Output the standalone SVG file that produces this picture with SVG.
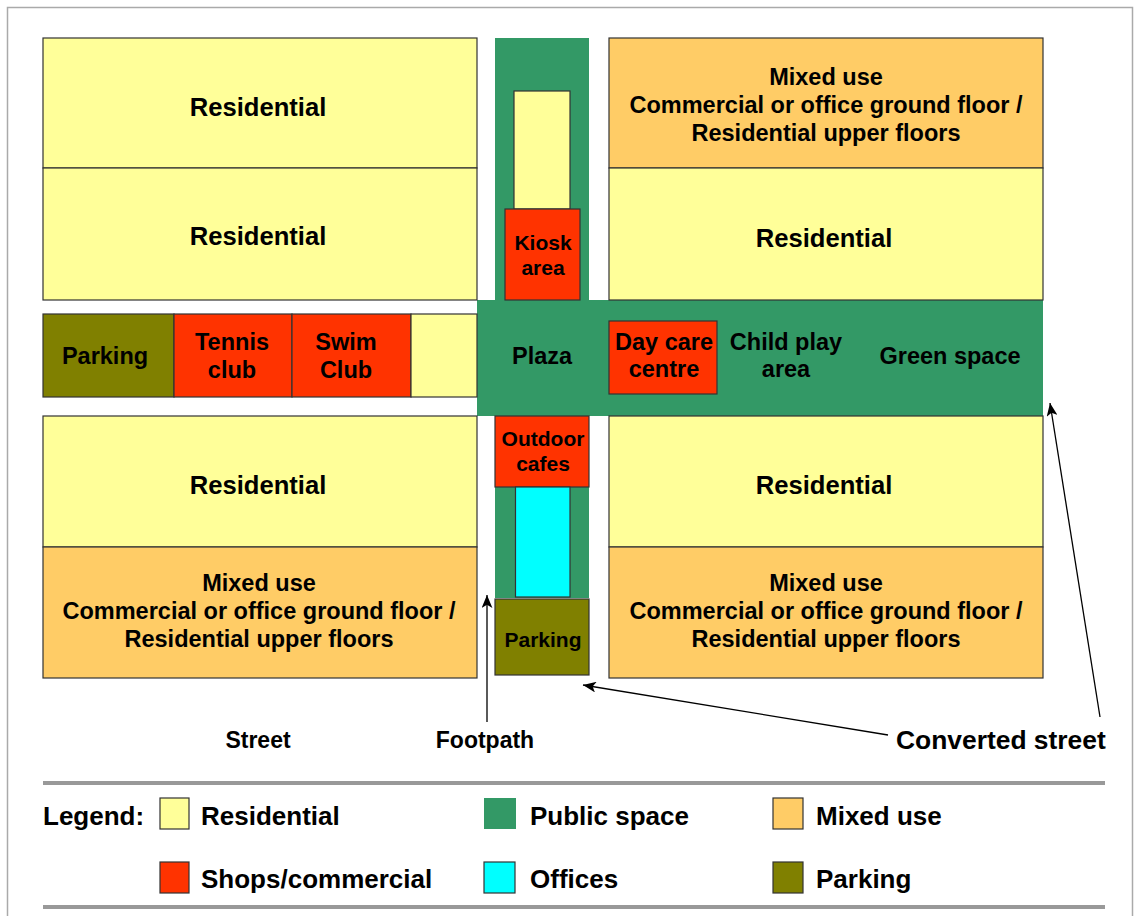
<svg xmlns="http://www.w3.org/2000/svg" width="1136" height="916" viewBox="0 0 1136 916">
<defs>
<style>
.blk{stroke:#333;stroke-width:1.2}
.res{fill:#FFFF99}
.mix{fill:#FFCC66}
.pub{fill:#339966}
.shop{fill:#FF3300}
.off{fill:#00FFFF}
.park{fill:#808000}
text{font-family:"Liberation Sans",Arial,Helvetica,sans-serif;font-weight:bold;fill:#000}
.c{text-anchor:middle}
.big{font-size:25.6px}
.leg{font-size:26px}
.mid{font-size:23.5px}
.lbl{font-size:23px}
.sm{font-size:21px}
.conn{stroke:#000;stroke-width:1.3;fill:none;marker-end:url(#ah)}
</style>
<marker id="ah" viewBox="0 0 12 10" refX="12" refY="5" markerWidth="13" markerHeight="11" markerUnits="userSpaceOnUse" orient="auto">
<path d="M0,0 L12,5 L0,10 L3,5 Z" fill="#000"/>
</marker>
</defs>
<rect x="0" y="0" width="1136" height="916" fill="#fff"/>
<rect x="7.5" y="7.5" width="1125" height="920" fill="none" stroke="#aaa" stroke-width="1.5"/>

<g id="public-strip-north"><rect class="pub" x="495" y="38" width="94" height="262"/></g>
<g id="public-strip-south"><rect class="pub" x="495" y="416" width="94" height="182"/></g>
<g id="plaza-band"><rect class="pub" x="477" y="300" width="566" height="116"/>
<text class="c mid" x="542" y="364">Plaza</text>
<text class="c mid" x="786" y="350">Child play</text>
<text class="c mid" x="786" y="377">area</text>
<text class="c mid" x="950" y="364">Green space</text>
</g>

<g id="res-nw1"><rect class="blk res" x="43" y="38" width="434" height="130"/><text class="c big" x="258" y="116">Residential</text></g>
<g id="res-nw2"><rect class="blk res" x="43" y="168" width="434" height="132"/><text class="c big" x="258" y="245">Residential</text></g>
<g id="parking-w"><rect class="blk park" x="43" y="314" width="131" height="83"/><text class="c mid" x="105" y="364">Parking</text></g>
<g id="tennis"><rect class="blk shop" x="174" y="314" width="118" height="83"/><text class="c mid" x="232" y="350">Tennis</text><text class="c mid" x="232" y="378">club</text></g>
<g id="swim"><rect class="blk shop" x="292" y="314" width="119" height="83"/><text class="c mid" x="346" y="350">Swim</text><text class="c mid" x="346" y="378">Club</text></g>
<g id="res-w-small"><rect class="blk res" x="411" y="314" width="66" height="83"/></g>
<g id="res-sw"><rect class="blk res" x="43" y="416" width="434" height="131"/><text class="c big" x="258" y="494">Residential</text></g>
<g id="mix-sw"><rect class="blk mix" x="43" y="547" width="434" height="131"/>
<text class="c mid" x="259" y="591">Mixed use</text>
<text class="c mid" x="259" y="619">Commercial or office ground floor /</text>
<text class="c mid" x="259" y="647">Residential upper floors</text></g>

<g id="res-center-n"><rect class="blk res" x="514" y="91" width="56" height="118"/></g>
<g id="kiosk"><rect class="blk shop" x="505" y="209" width="75" height="91"/><text class="c sm" x="543" y="250">Kiosk</text><text class="c sm" x="543" y="275">area</text></g>
<g id="cafes"><rect class="blk shop" x="495" y="416" width="94" height="71"/><text class="c sm" x="543" y="446">Outdoor</text><text class="c sm" x="543" y="471">cafes</text></g>
<g id="offices"><rect class="blk off" x="515.5" y="487" width="54.5" height="110"/></g>
<g id="parking-s"><rect class="blk park" x="495" y="599" width="94" height="76"/><text class="c sm" x="543" y="647">Parking</text></g>

<g id="mix-ne"><rect class="blk mix" x="609" y="38" width="434" height="130"/>
<text class="c mid" x="826" y="85">Mixed use</text>
<text class="c mid" x="826" y="113">Commercial or office ground floor /</text>
<text class="c mid" x="826" y="141">Residential upper floors</text></g>
<g id="res-ne"><rect class="blk res" x="609" y="168" width="434" height="132"/><text class="c big" x="824" y="247">Residential</text></g>
<g id="daycare"><rect class="blk shop" x="609" y="321" width="108" height="73"/><text class="c mid" x="664" y="350">Day care</text><text class="c mid" x="664" y="377">centre</text></g>
<g id="res-se"><rect class="blk res" x="609" y="416" width="434" height="131"/><text class="c big" x="824" y="494">Residential</text></g>
<g id="mix-se"><rect class="blk mix" x="609" y="547" width="434" height="131"/>
<text class="c mid" x="826" y="591">Mixed use</text>
<text class="c mid" x="826" y="619">Commercial or office ground floor /</text>
<text class="c mid" x="826" y="647">Residential upper floors</text></g>

<g id="connectors">
<line class="conn" x1="487" y1="722" x2="487" y2="595"/>
<line class="conn" x1="888" y1="735" x2="583" y2="685"/>
<line class="conn" x1="1100" y1="717" x2="1050" y2="403"/>
</g>

<g id="labels">
<text class="c lbl" x="258" y="748">Street</text>
<text class="c lbl" x="485" y="748">Footpath</text>
<text style="font-size:26.4px" x="896" y="749">Converted street</text>
</g>

<g id="legend">
<line x1="43" y1="783" x2="1105" y2="783" stroke="#999" stroke-width="4"/>
<line x1="43" y1="907" x2="1105" y2="907" stroke="#999" stroke-width="4"/>
<text class="leg" x="43" y="825">Legend:</text>
<rect class="blk res" x="160" y="798" width="29" height="31"/><text class="leg" x="201" y="825">Residential</text>
<rect class="pub" x="484" y="798" width="32" height="31"/><text class="leg" x="530" y="825">Public space</text>
<rect class="blk mix" x="773" y="798" width="30" height="31"/><text class="leg" x="816" y="825">Mixed use</text>
<rect class="blk shop" x="160" y="862" width="29" height="31"/><text class="leg" x="201" y="888">Shops/commercial</text>
<rect class="blk off" x="484" y="862" width="31" height="31"/><text class="leg" x="530" y="888">Offices</text>
<rect class="blk park" x="773" y="862" width="30" height="31"/><text class="leg" x="816" y="888">Parking</text>
</g>
</svg>
